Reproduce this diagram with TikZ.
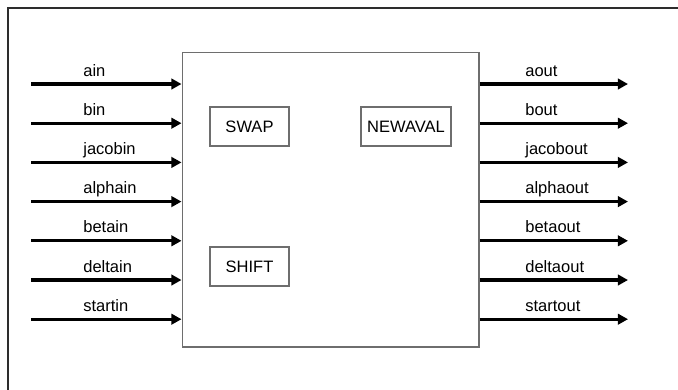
\documentclass[tikz,border=0pt]{standalone}
\usepackage{fontspec}
\setmainfont{Liberation Sans}
\usepackage{tikz}
\usetikzlibrary{arrows.meta,positioning,calc}
\definecolor{cadre}{RGB}{45,45,45}
\definecolor{trait}{RGB}{110,110,110}

\begin{document}
\begin{tikzpicture}[x=0.02cm,y=-0.02cm,
	font=\fontsize{9.4}{11}\selectfont,
	arr/.style={-{Triangle[length=5.8pt,width=6pt]},black,line width=1.8pt},
	lbl/.style={anchor=base west,inner sep=0pt},
	blk/.style={draw=trait,line width=0.6pt,inner sep=0pt},
	sub/.style={draw=trait,line width=0.6pt,minimum height=0.78cm,inner sep=0pt}]
	\useasboundingbox (0,0) rectangle (678,389);
	\begin{scope}
		\clip (0,0) rectangle (678,389);
		\draw[cadre,line width=1.2pt] (8,8) rectangle (720,430);
	\end{scope}
	
	% bloc principal
	\node[blk,minimum width=5.94cm,minimum height=5.9cm] (bloc) at (330.5,199.5){};
	
	\node[sub,minimum width=1.58cm] (swap) at (249.5,126.5){SWAP};
	\node[sub,minimum width=1.8cm] (newaval) at (406,126.5){NEWAVAL};
	\node[sub,minimum width=1.58cm] (shift) at (249.5,266.5){SHIFT};
	
	% entrees
	\coordinate (ain) at (31,84);
	\coordinate (bin) at (31,123.2);
	\coordinate (jacobin) at (31,162.4);
	\coordinate (alphain) at (31,201.6);
	\coordinate (betain) at (31,240.8);
	\coordinate (deltain) at (31,280);
	\coordinate (startin) at (31,319.2);
	\draw[arr](ain)--(ain -| bloc.west);
	\draw[arr](bin)--(bin -| bloc.west);
	\draw[arr](jacobin)--(jacobin -| bloc.west);
	\draw[arr](alphain)--(alphain -| bloc.west);
	\draw[arr](betain)--(betain -| bloc.west);
	\draw[arr](deltain)--(deltain -| bloc.west);
	\draw[arr](startin)--(startin -| bloc.west);
	\node[lbl] (ainl) at (83,76){ain};
	\node[lbl] (binl) at (83,115.2){bin};
	\node[lbl] (jacobinl) at (83,154.4){jacobin};
	\node[lbl] (alphainl) at (83,193.6){alphain};
	\node[lbl] (betainl) at (83,232.8){betain};
	\node[lbl] (deltainl) at (83,272){deltain};
	\node[lbl] (startinl) at (83,311.2){startin};
	
	% sorties
	\coordinate (aout) at (628,84);
	\coordinate (bout) at (628,123.2);
	\coordinate (jacobout) at (628,162.4);
	\coordinate (alphaout) at (628,201.6);
	\coordinate (betaout) at (628,240.8);
	\coordinate (deltaout) at (628,280);
	\coordinate (startout) at (628,319.2);
	\draw[arr](aout -| bloc.east)--(aout);
	\draw[arr](bout -| bloc.east)--(bout);
	\draw[arr](jacobout -| bloc.east)--(jacobout);
	\draw[arr](alphaout -| bloc.east)--(alphaout);
	\draw[arr](betaout -| bloc.east)--(betaout);
	\draw[arr](deltaout -| bloc.east)--(deltaout);
	\draw[arr](startout -| bloc.east)--(startout);
	\node[lbl] (aoutl) at (525,76){aout};
	\node[lbl] (boutl) at (525,115.2){bout};
	\node[lbl] (jacoboutl) at (525,154.4){jacobout};
	\node[lbl] (alphaoutl) at (525,193.6){alphaout};
	\node[lbl] (betaoutl) at (525,232.8){betaout};
	\node[lbl] (deltaoutl) at (525,272){deltaout};
	\node[lbl] (startoutl) at (525,311.2){startout};
\end{tikzpicture}
\end{document}
